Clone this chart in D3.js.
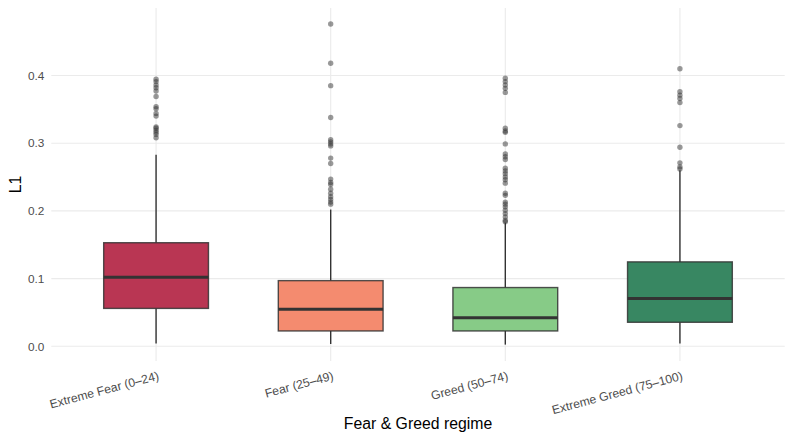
<!DOCTYPE html>
<html><head><meta charset="utf-8">
<script src="https://cdn.jsdelivr.net/npm/d3@7/dist/d3.min.js"></script>
<style>body{margin:0;background:#fff}svg{display:block}text{font-family:"Liberation Sans",Arial,sans-serif}</style>
</head><body><svg id="c" width="793" height="441"></svg>
<script>
const categories = ["Extreme Fear (0\u201324)", "Fear (25\u201349)", "Greed (50\u201374)", "Extreme Greed (75\u2013100)"];
const fills = ["#B72F4D", "#F4876A", "#83C983", "#32835D"];
const lowerWhisker = [0.004, 0.0034, 0.0025, 0.004];
const q1 = [0.056, 0.0227, 0.0227, 0.0355];
const median = [0.102, 0.0547, 0.042, 0.0706];
const q3 = [0.153, 0.097, 0.0868, 0.1247];
const upperWhisker = [0.283, 0.202, 0.1825, 0.260];
const outliersExtremeFear = [0.3945,0.391,0.386,0.382,0.377,0.369,0.354,0.351,0.344,0.340,0.324,0.322,0.319,0.316,0.313,0.308];
const outliersFear = [0.476,0.418,0.385,0.338,0.305,0.302,0.299,0.296,0.278,0.270,0.247,0.242,0.239,0.232,0.226,0.221,0.217,0.213,0.210];
const outliersGreed = [0.396,0.391,0.386,0.381,0.375,0.322,0.318,0.316,0.299,0.284,0.280,0.276,0.263,0.259,0.255,0.250,0.246,0.241,0.226,0.223,0.213,0.210,0.206,0.201,0.196,0.191,0.186,0.184];
const outliersExtremeGreed = [0.410,0.376,0.371,0.366,0.360,0.326,0.294,0.271,0.265,0.262];
const yTicks = [0.0, 0.1, 0.2, 0.3, 0.4];
const outliers = [outliersExtremeFear, outliersFear, outliersGreed, outliersExtremeGreed];

const svg = d3.select("#c");
const L = 51.3, R = 784.7, T = 8, B = 361;
const y = d3.scaleLinear().domain([-0.0217, 0.4997]).range([B, T]);
const xc = d3.scaleLinear().domain([0.4, 4.6]).range([L, R]);
const x = i => xc(i + 1);
const bw = xc(1.6) - xc(1);

const g = svg.append("g");
// grid
g.selectAll(".hg").data(yTicks).join("line").attr("x1", L).attr("x2", R)
  .attr("y1", d => y(d)).attr("y2", d => y(d)).attr("stroke", "#EBEBEB").attr("stroke-width", 1.1);
g.selectAll(".vg").data(categories).join("line").attr("y1", T).attr("y2", B)
  .attr("x1", (d,i) => x(i)).attr("x2", (d,i) => x(i)).attr("stroke", "#EBEBEB").attr("stroke-width", 1.1);

// y axis labels
const yAxis = d3.axisLeft(y).tickValues(yTicks).tickFormat(d3.format(".1f")).tickSize(0).tickPadding(7);
const ya = svg.append("g").attr("transform", `translate(${L},0)`).call(yAxis);
ya.select(".domain").remove();
ya.selectAll("text").attr("fill", "#4D4D4D").style("font-size", "11.8px");

// boxes
categories.forEach((c, i) => {
  const cx = x(i);
  const gb = svg.append("g");
  gb.append("line").attr("x1", cx).attr("x2", cx).attr("y1", y(upperWhisker[i])).attr("y2", y(q3[i]))
    .attr("stroke", "#333").attr("stroke-width", 1.4);
  gb.append("line").attr("x1", cx).attr("x2", cx).attr("y1", y(q1[i])).attr("y2", y(lowerWhisker[i]))
    .attr("stroke", "#333").attr("stroke-width", 1.4);
  gb.append("rect").attr("x", cx - bw/2).attr("width", bw).attr("y", y(q3[i])).attr("height", y(q1[i]) - y(q3[i]))
    .attr("fill", fills[i]).attr("fill-opacity", 0.97).attr("stroke", "#333").attr("stroke-opacity", 0.85).attr("stroke-width", 1.4);
  gb.append("line").attr("x1", cx - bw/2).attr("x2", cx + bw/2).attr("y1", y(median[i])).attr("y2", y(median[i]))
    .attr("stroke", "#333").attr("stroke-width", 3);
  gb.selectAll("circle").data(outliers[i]).join("circle").attr("cx", cx).attr("cy", d => y(d)).attr("r", 2.7)
    .attr("fill", "#333").attr("fill-opacity", 0.5);
});

// x axis labels
const xa = svg.append("g");
categories.forEach((c, i) => {
  xa.append("text").attr("transform", `translate(${x(i)+1},${B + 9}) rotate(-15)`)
    .attr("text-anchor", "end").attr("dy", "0.8em").attr("fill", "#4D4D4D").style("font-size", "12.2px").text(c);
});

svg.append("text").attr("x", (L+R)/2).attr("y", 429).attr("text-anchor", "middle").style("font-size", "15.8px").attr("fill", "#000").text("Fear & Greed regime");
svg.append("text").attr("transform", `translate(21,${(T+B)/2}) rotate(-90)`).attr("text-anchor", "middle").style("font-size", "15.8px").attr("fill", "#000").text("L1");
</script></body></html>
